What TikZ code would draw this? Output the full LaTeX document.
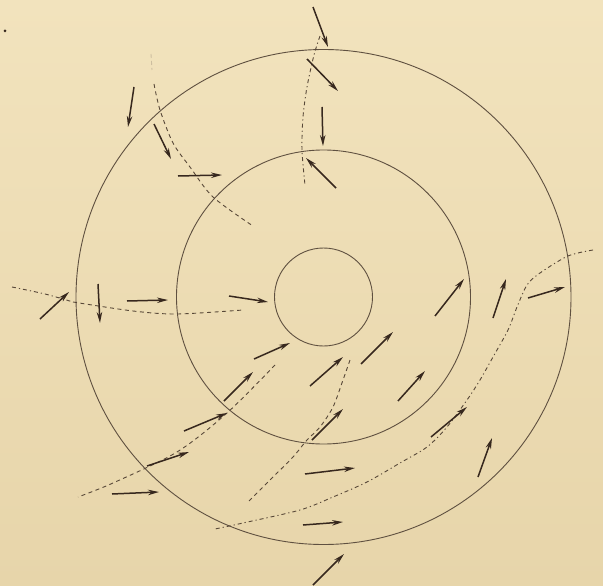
\documentclass[tikz,border=0pt]{standalone}
\usetikzlibrary{arrows.meta}
\definecolor{paper}{RGB}{242,227,189}
\definecolor{paperdark}{RGB}{231,213,170}
\definecolor{ink}{RGB}{55,40,30}
\definecolor{ringcol}{RGB}{95,80,64}
\definecolor{flowcol}{RGB}{88,72,56}
\definecolor{fadecol}{RGB}{205,190,160}
\tikzset{
  ring/.style={draw=ringcol, line width=0.9pt},
  vec/.style={draw=ink, line width=1.5pt, -{Stealth[length=11pt,width=5.5pt]}},
  flow/.style={draw=flowcol, line width=0.9pt, dash pattern=on 4pt off 3.5pt},
  flowdot/.style={draw=flowcol, line width=0.9pt, dash pattern=on 4pt off 3pt on 1.2pt off 3pt},
}
\begin{document}
\begin{tikzpicture}[x=1pt,y=-1pt]
\useasboundingbox (0,0) rectangle (603,586);
\shade[top color=paper, bottom color=paperdark] (0,0) rectangle (603,586);
\coordinate (o) at (323.5,297);
% rings
\draw[ring] (o) circle (49pt);
\draw[ring] (o) circle (147pt);
\draw[ring] (o) circle (247.5pt);
% stray dot
\fill[ink] (5,31) circle (1.5pt);
% flow lines
\draw[draw=fadecol, line width=0.9pt, dash pattern=on 4pt off 3pt] (151,54) -- (152,70);
\draw[flow] plot[smooth] coordinates {(154,84) (160,110) (173,143) (190,167) (213,197) (253,226)};
\draw[flowdot] plot[smooth] coordinates {(320,36) (314,55) (307,87) (303,117) (302,150) (305,185)};
\draw[flowdot] plot[smooth] coordinates {(12,287) (45,294) (73,302)};
\draw[flow] plot[smooth] coordinates {(73,302) (133,311) (177,314) (243,310)};
\draw[flow] plot[smooth] coordinates {(275,365) (227,413) (177,452) (113,483) (78,497)};
\draw[flow] plot[smooth] coordinates {(350,360) (343,380) (333,407) (320,427) (307,440) (293,457) (273,477) (247,503)};
\draw[flowdot] plot[smooth] coordinates {(593,250) (568,256) (540,273) (527,285) (517,307) (508,330) (493,357) (480,380) (467,400) (447,427) (427,447) (400,463) (367,482) (333,497) (300,510) (243,523) (215,529)};
% arrows, upper left
\draw[vec] (134,87) -- (128,127);
\draw[vec] (154,124) -- (171,159);
\draw[vec] (178,176) -- (222,175);
% arrows, top
\draw[vec] (313,7) -- (328,47);
\draw[vec] (307,59) -- (338,91);
\draw[vec] (322,107) -- (323,146);
\draw[vec] (336,188) -- (306,158);
% arrows, left
\draw[vec] (40,319) -- (69,292);
\draw[vec] (98,284) -- (100,323);
\draw[vec] (127,301) -- (168,300);
\draw[vec] (229,296) -- (268,302);
% arrows, right
\draw[vec] (435,316) -- (464,279);
\draw[vec] (493,318) -- (506,279);
\draw[vec] (528,298) -- (565,287);
% arrows, lower left
\draw[vec] (254,359) -- (290,343);
\draw[vec] (224,401) -- (253,372);
\draw[vec] (184,431) -- (227,413);
\draw[vec] (147,466) -- (189,452);
\draw[vec] (112,494) -- (159,492);
% arrows, lower right
\draw[vec] (310,386) -- (343,357);
\draw[vec] (361,364) -- (393,332);
\draw[vec] (398,401) -- (425,371);
\draw[vec] (312,440) -- (343,409);
\draw[vec] (431,437) -- (467,407);
\draw[vec] (478,477) -- (492,438);
\draw[vec] (305,474) -- (355,468);
\draw[vec] (303,525) -- (343,522);
\draw[vec] (313,585) -- (344,554);
\end{tikzpicture}
\end{document}
